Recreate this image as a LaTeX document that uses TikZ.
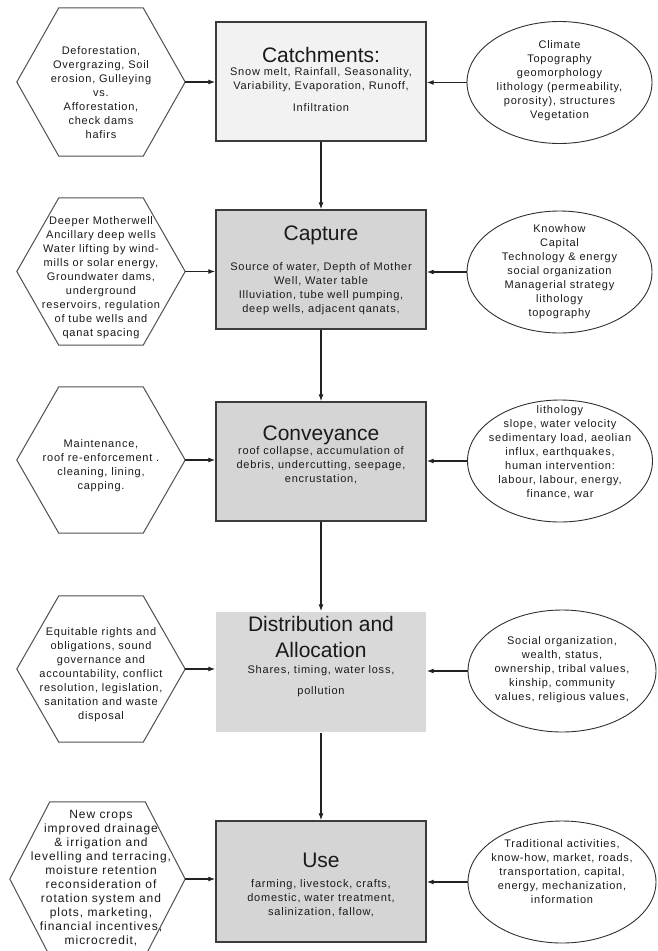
\documentclass[tikz,border=0pt]{standalone}
\usepackage{fontspec}
\setmainfont{Liberation Sans}
\newfontfamily\bodyfont{Liberation Sans}[LetterSpace=7]
\newfontfamily\widefont{Liberation Sans}[LetterSpace=8]
\usetikzlibrary{shapes.geometric,arrows.meta}
\definecolor{boxline}{HTML}{3C3C3C}
\definecolor{fillA}{HTML}{F2F2F2}
\definecolor{fillB}{HTML}{D5D5D5}
\definecolor{fillC}{HTML}{D9D9D9}
\definecolor{txt}{HTML}{1A1A1A}
\definecolor{arr}{HTML}{222222}
\definecolor{hexc}{HTML}{505050}
\definecolor{ellc}{HTML}{303030}
\newcommand\hexdraw[2]{\draw[hexline] (#1.west) -- ([xshift=#2]#1.north west) -- ([xshift=-#2]#1.north east) -- (#1.east) -- ([xshift=-#2]#1.south east) -- ([xshift=#2]#1.south west) -- cycle;}
\tikzset{
  procbox/.style={rectangle, draw=boxline, line width=1.4pt, minimum width=210pt, inner sep=0pt},
  hexnode/.style={rectangle, inner sep=0pt, minimum width=168pt},
  hexline/.style={draw=hexc, line width=1pt},
  factor/.style={ellipse, draw=ellc, line width=0.9pt, inner sep=0pt, minimum width=185pt, minimum height=122pt},
  titletext/.style={font=\fontsize{21}{26}\selectfont, text=txt, align=center, inner sep=0pt, execute at begin node=\strut, execute at end node=\strut},
  bodytext/.style={font=\bodyfont\fontsize{11}{14}\selectfont, text=txt, align=center, inner sep=0pt, execute at begin node=\strut, execute at end node=\strut},
  widetext/.style={font=\widefont\fontsize{12}{14}\selectfont, text=txt, align=center, inner sep=0pt, execute at begin node=\strut, execute at end node=\strut},
  flow/.style={draw=arr, line width=1.2pt, -{Latex[length=7pt,width=5pt]}},
}
\begin{document}
\begin{tikzpicture}[x=1pt,y=-1pt]
\useasboundingbox (0,0) rectangle (657,951);
\clip (0,0) rectangle (657,951);
\fill[white] (0,0) rectangle (657,951);

% central process boxes
\node[procbox, fill=fillA, minimum height=119pt] (b1) at (321,81.5) {};
\node[procbox, fill=fillB, minimum height=119pt] (b2) at (321,269.5) {};
\node[procbox, fill=fillB, minimum height=119pt] (b3) at (321,461.5) {};
\node[procbox, draw=none, fill=fillC, minimum height=120pt] (b4) at (321,672) {};
\node[procbox, fill=fillB, minimum height=121pt] (b5) at (321,881.5) {};

\node[titletext] (t1) at (321,57.3) {Catchments:};
\node[bodytext] (s1) at (321,92) {Snow melt, Rainfall, Seasonality,\\Variability, Evaporation, Runoff,\\[8pt]Infiltration};
\node[titletext] (t2) at (321,235.3) {Capture};
\node[bodytext] (s2) at (321,289.5) {Source of water, Depth of Mother\\Well, Water table\\Illuviation, tube well pumping,\\deep wells, adjacent qanats,};
\node[titletext] (t3) at (321,435.3) {Conveyance};
\node[bodytext] (s3) at (321,467) {roof collapse, accumulation of\\debris, undercutting, seepage,\\encrustation,};
\node[titletext] (t4) at (321,640.3) {Distribution and\\Allocation};
\node[bodytext] (s4) at (321,682.5) {Shares, timing, water loss,\\[7pt]pollution};
\node[titletext] (t5) at (321,862.3) {Use};
\node[bodytext] (s5) at (321,900) {farming, livestock, crafts,\\domestic, water treatment,\\salinization, fallow,};

% left hexagons
\node[hexnode, minimum height=148pt] (h1) at (101,82) {};
\node[hexnode, minimum height=147pt] (h2) at (101,271.5) {};
\node[hexnode, minimum height=146pt] (h3) at (101,460) {};
\node[hexnode, minimum height=146pt] (h4) at (101,669) {};
\node[hexnode, minimum width=175pt, minimum height=154pt] (h5) at (97.5,879) {};
\hexdraw{h1}{42pt}
\hexdraw{h2}{42pt}
\hexdraw{h3}{42pt}
\hexdraw{h4}{42pt}
\hexdraw{h5}{40pt}

\node[bodytext] (l1) at (101,94.5) {Deforestation,\\Overgrazing, Soil\\erosion, Gulleying\\vs.\\Afforestation,\\check dams\\hafirs};
\node[bodytext] (l2) at (101,278.5) {Deeper Motherwell\\Ancillary deep wells\\Water lifting by wind-\\mills or solar energy,\\Groundwater dams,\\underground\\reservoirs, regulation\\of tube wells and\\qanat spacing};
\node[bodytext] (l3) at (101,466.5) {Maintenance,\\roof re-enforcement .\\cleaning, lining,\\capping.};
\node[bodytext] (l4) at (101,675.5) {Equitable rights and\\obligations, sound\\governance and\\accountability, conflict\\resolution, legislation,\\sanitation and waste\\disposal};
\node[widetext] (l5) at (101,879) {New crops\\improved drainage\\\& irrigation and\\levelling and terracing,\\moisture retention\\reconsideration of\\rotation system and\\plots, marketing,\\financial incentives,\\microcredit,};

% right ellipses
\node[factor] (e1) at (559.5,82.5) {};
\node[factor] (e2) at (559.5,272) {};
\node[factor] (e3) at (560,461) {};
\node[factor, minimum width=188pt] (e4) at (562,671) {};
\node[factor, minimum width=188pt] (e5) at (562,882) {};

\node[bodytext] (r1) at (559.5,82) {Climate\\Topography\\geomorphology\\lithology (permeability,\\porosity), structures\\Vegetation};
\node[bodytext] (r2) at (559.5,272.5) {Knowhow\\Capital\\Technology \& energy\\social organization\\Managerial strategy\\lithology\\topography};
\node[bodytext] (r3) at (560,454) {lithology\\slope, water velocity\\sedimentary load, aeolian\\influx, earthquakes,\\human intervention:\\labour, labour, energy,\\finance, war};
\node[bodytext] (r4) at (562,670.5) {Social organization,\\wealth, status,\\ownership, tribal values,\\kinship, community\\values, religious values,};
\node[bodytext] (r5) at (562,873.5) {Traditional activities,\\know-how, market, roads,\\transportation, capital,\\energy, mechanization,\\information};

% vertical flow
\draw[flow] (b1.south) -- (b2.north);
\draw[flow] (b2.south) -- (b3.north);
\draw[flow] (b3.south) -- (b4.north);
\draw[flow] (b4.south) -- (b5.north);

% left inputs
\draw[flow] (h1.east) -- (h1.east -| b1.west);
\draw[flow] (h2.east) -- (h2.east -| b2.west);
\draw[flow] (h3.east) -- (h3.east -| b3.west);
\draw[flow] (h4.east) -- (h4.east -| b4.west);
\draw[flow] (h5.east) -- (h5.east -| b5.west);

% right inputs
\draw[flow] (e1.west) -- (e1.west -| b1.east);
\draw[flow] (e2.west) -- (e2.west -| b2.east);
\draw[flow] (e3.west) -- (e3.west -| b3.east);
\draw[flow] (e4.west) -- (e4.west -| b4.east);
\draw[flow] (e5.west) -- (e5.west -| b5.east);
\end{tikzpicture}
\end{document}
